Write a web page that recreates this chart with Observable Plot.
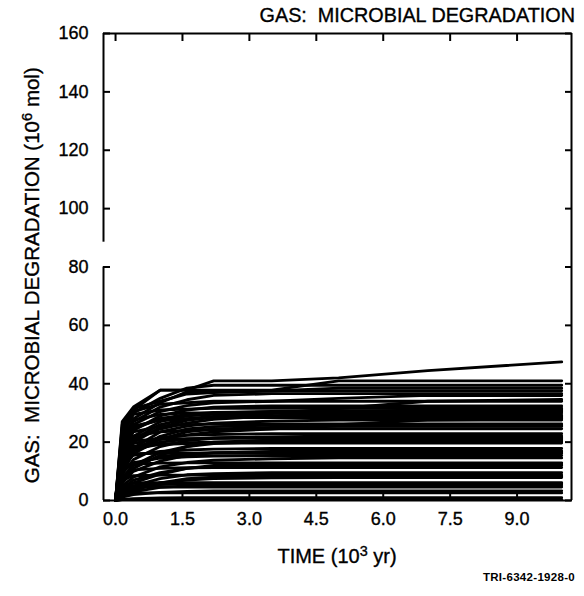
<!DOCTYPE html>
<html>
<head>
<meta charset="utf-8">
<script src="https://cdn.jsdelivr.net/npm/d3@7"></script>
<script src="https://cdn.jsdelivr.net/npm/@observablehq/plot@0.6"></script>
<style>
  body { margin: 0; background: #fff; }
  #wrap { position: relative; width: 584px; height: 596px; font-family: "Liberation Sans", Arial, Helvetica, sans-serif; color: #000; }
  #chart { position: absolute; left: 0; top: 0; }
  #chart svg text { stroke: #000; stroke-width: 0.35px; }
  .lbl { position: absolute; line-height: 1; white-space: pre; -webkit-text-stroke: 0.35px #000; }
  .lbl sup { font-size: 0.72em; vertical-align: 0; position: relative; top: -0.48em; line-height: 0; }
  #title { top: 5.5px; right: 9px; font-size: 19.8px; }
  #ylabel { width: 460px; left: -198px; top: 265px; font-size: 20.5px; text-align: center; transform: rotate(-90deg); transform-origin: 50% 50%; }
  #xlabel { width: 300px; left: 187px; top: 546px; font-size: 20px; text-align: center; }
  #caption { top: 572px; right: 9px; font-size: 11.5px; font-weight: bold; letter-spacing: 0.3px; -webkit-text-stroke: 0; }
</style>
</head>
<body>
<div id="wrap">
  <div id="chart"></div>
  <div class="lbl" id="title">GAS:  MICROBIAL DEGRADATION</div>
  <div class="lbl" id="ylabel">GAS:  MICROBIAL DEGRADATION (10<sup>6</sup> mol)</div>
  <div class="lbl" id="xlabel">TIME (10<sup>3</sup> yr)</div>
  <div class="lbl" id="caption">TRI-6342-1928-0</div>
</div>
<script>
// time points (10^3 yr)
const times = [0, 0.15, 0.4, 1.0, 1.6, 2.2, 3.5, 5.0, 7.0, 10];

// gas from microbial degradation (10^6 mol) at each time point, one row per run
const runsHigh = [
  [0, 27, 32, 37.8, 37.8, 41, 41, 42, 44.5, 47.5],
  [0, 25, 31, 37.8, 37.8, 37.8, 37.8, 41, 41, 41],
  [0, 22, 30, 35, 38.5, 39.5, 39.5, 39.5, 39.5, 39.5],
  [0, 26, 31.5, 34, 36.5, 37, 37.5, 38.5, 38.5, 38.5],
  [0, 20, 28, 33.5, 37.2, 37.6, 37.6, 37.6, 37.6, 37.6],
  [0, 18, 27, 32, 34.5, 36, 36.6, 36.6, 36.6, 36.6],
  [0, 24, 30.5, 33, 33.5, 34, 34, 35, 36, 36],
  [0, 17, 26, 30.5, 32.5, 33.5, 34, 34, 34, 34],
  [0, 15, 24, 29, 31, 32, 32.4, 32.4, 32.4, 32.4],
  [0, 23, 29.5, 31, 31.3, 31.6, 31.6, 31.6, 31.6, 31.6],
  [0, 13, 22, 27, 29, 30, 30.5, 30.8, 30.8, 30.8],
  [0, 21, 27.5, 29.5, 30, 30, 30, 30, 30, 30],
  [0, 19, 25, 28, 29, 29.5, 29.8, 31.5, 34, 34.6],
  [0, 18, 24.5, 28, 29.5, 30.2, 30.4, 30.4, 30.4, 30.4]
];
const runsMid = [
  [0, 12, 20, 25, 27.5, 28.5, 29, 29.2, 29.2, 29.2],
  [0, 14, 21, 26, 28, 28.8, 28.8, 28.8, 28.8, 28.8],
  [0, 20, 25.5, 27.5, 28, 28.4, 28.4, 28.4, 28.4, 28.4],
  [0, 11, 18, 23.5, 25.5, 26.5, 27.2, 27.6, 27.6, 27.6],
  [0, 18, 23.5, 25.5, 26, 26.2, 26.2, 26.2, 26.2, 26.2],
  [0, 9, 17, 22, 24.5, 25.3, 25.8, 25.8, 25.8, 25.8],
  [0, 10, 16, 21, 23.5, 24.5, 25, 25.4, 25.4, 25.4],
  [0, 17, 22, 23.5, 24, 24.3, 24.6, 24.6, 24.6, 24.6],
  [0, 15, 19.5, 21.5, 22.3, 22.6, 22.9, 22.9, 22.9, 22.9],
  [0, 9, 14, 18.5, 20.5, 21.3, 21.8, 22.1, 22.1, 22.1],
  [0, 12, 17, 20, 21, 21.5, 21.7, 21.7, 21.7, 21.7],
  [0, 16, 20.5, 21, 21.2, 21.3, 21.3, 21.3, 21.3, 21.3],
  [0, 6, 11, 15.5, 18.5, 20, 20.7, 20.9, 20.9, 20.9],
  [0, 7, 12, 16.5, 18.5, 19.5, 20.2, 20.5, 20.5, 20.5],
  [0, 13, 17.5, 19.3, 19.8, 20, 20.1, 20.1, 20.1, 20.1],
  [0, 14, 18.5, 19.2, 19.5, 19.7, 19.7, 19.7, 19.7, 19.7],
  [0, 12, 15.5, 16.8, 17.3, 17.6, 17.8, 17.8, 17.8, 17.8],
  [0, 6, 10, 13.5, 15.5, 16.3, 16.8, 17, 17, 17],
  [0, 8, 12, 15, 16, 16.4, 16.6, 16.6, 16.6, 16.6],
  [0, 13, 16, 16.2, 16.2, 16.2, 16.2, 16.2, 16.2, 16.2],
  [0, 10, 13, 14.5, 15, 15.2, 15.4, 15.4, 15.4, 15.4],
  [0, 5, 8, 11.5, 13, 13.8, 14.3, 14.6, 14.6, 14.6],
  [0, 14, 18, 21, 22.5, 23.5, 24.5, 26, 27.6, 28],
  [0, 16, 21, 24.5, 26.5, 27.8, 29, 30.2, 31.2, 31.2]
];
const runsLow = [
  [0, 10, 12.5, 12.8, 12.9, 12.9, 12.9, 12.9, 12.9, 12.9],
  [0, 3, 6, 9, 11, 12, 12.4, 12.5, 12.5, 12.5],
  [0, 4, 7, 9.5, 11, 11.6, 12, 12.1, 12.1, 12.1],
  [0, 8, 10.5, 11, 11.2, 11.3, 11.3, 11.3, 11.3, 11.3],
  [0, 3, 5, 7.5, 8.8, 9.2, 9.5, 9.5, 9.5, 9.5],
  [0, 7, 8.5, 8.7, 8.7, 8.7, 8.7, 8.7, 8.7, 8.7],
  [0, 1.5, 3.5, 6, 7.5, 8, 8.3, 8.3, 8.3, 8.3],
  [0, 2.5, 4, 6, 7, 7.5, 7.8, 7.9, 7.9, 7.9],
  [0, 5, 6, 6.1, 6.1, 6.1, 6.1, 6.1, 6.1, 6.1],
  [0, 3.5, 5, 5.5, 5.7, 5.7, 5.7, 5.7, 5.7, 5.7],
  [0, 2, 3, 4.5, 5, 5.2, 5.3, 5.3, 5.3, 5.3],
  [0, 4, 4.6, 4.6, 4.6, 4.6, 4.6, 4.6, 4.6, 4.6],
  [0, 1.2, 2, 2.8, 3.1, 3.3, 3.3, 3.3, 3.3, 3.3],
  [0, 2.2, 2.6, 2.6, 2.6, 2.6, 2.6, 2.6, 2.6, 2.6],
  [0, 0.4, 0.6, 0.9, 1.0, 1.0, 1.0, 1.0, 1.0, 1.0],
  [0, 0.3, 0.4, 0.4, 0.4, 0.4, 0.4, 0.4, 0.4, 0.4]
];

// axis ticks
const xTicks = [0, 1.5, 3, 4.5, 6, 7.5, 9];
const yTicks = [0, 20, 40, 60, 80, 100, 120, 140, 160];

// axis extents and the break in the left axis
const xDomain = [-0.27, 10.22];
const yDomain = [0, 160];
const leftAxisPieces = [{y1: 0, y2: 80}, {y1: 88.5, y2: 160}];

// layout (pixels)
const W = 584, H = 560, mT = 33, mB = 60, mL = 103, mR = 13, tickLen = 7;

const rows = [];
[...runsHigh, ...runsMid, ...runsLow].forEach((run, i) => {
  run.forEach((v, j) => rows.push({run: i, t: times[j], v}));
});

const chart = Plot.plot({
  width: W,
  height: H,
  marginTop: mT,
  marginBottom: mB,
  marginLeft: mL,
  marginRight: mR,
  x: {domain: xDomain},
  y: {domain: yDomain},
  style: {fontFamily: '"Liberation Sans", Arial, Helvetica, sans-serif', fontSize: "18px", color: "black", background: "white", overflow: "visible"},
  marks: [
    Plot.line(rows, {x: "t", y: "v", z: "run", stroke: "black", strokeWidth: 2.9, strokeLinejoin: "miter"}),
    // frame
    Plot.ruleY(yDomain, {stroke: "black", strokeWidth: 2}),
    Plot.ruleX([xDomain[1]], {stroke: "black", strokeWidth: 2}),
    Plot.ruleX(leftAxisPieces, {x: () => xDomain[0], y1: "y1", y2: "y2", stroke: "black", strokeWidth: 2}),
    // tick labels
    Plot.axisY({anchor: "left", ticks: yTicks, tickSize: 0, tickPadding: 15, label: null}),
    Plot.axisX({anchor: "bottom", ticks: xTicks, tickFormat: d3.format(".1f"), tickSize: 0, tickPadding: 12, label: null}),
    // inward ticks on all four sides
    Plot.axisY({anchor: "left", ticks: yTicks, tickSize: tickLen, tickFormat: () => "", label: null, dx: tickLen, strokeWidth: 2}),
    Plot.axisY({anchor: "right", ticks: yTicks, tickSize: tickLen, tickFormat: () => "", label: null, dx: -tickLen, strokeWidth: 2}),
    Plot.axisX({anchor: "bottom", ticks: xTicks, tickSize: tickLen, tickFormat: () => "", label: null, dy: -tickLen, strokeWidth: 2}),
    Plot.axisX({anchor: "top", ticks: xTicks, tickSize: tickLen, tickFormat: () => "", label: null, dy: tickLen, strokeWidth: 2})
  ]
});
document.getElementById("chart").appendChild(chart);
</script>
</body>
</html>
